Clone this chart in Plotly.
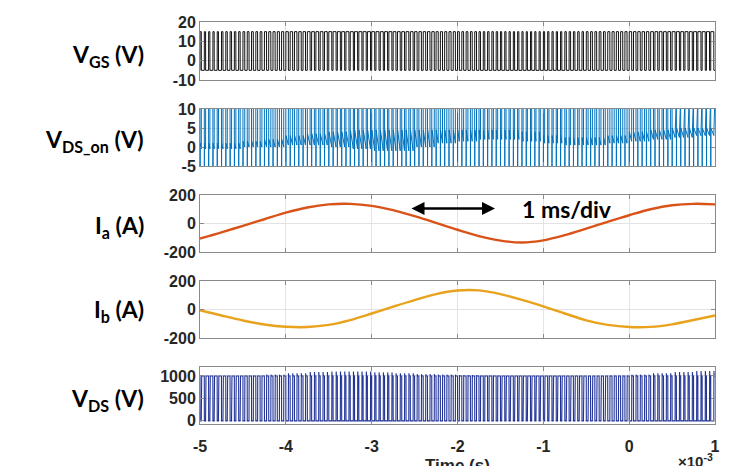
import plotly.graph_objects as go
from plotly.subplots import make_subplots

# ---------------- data ----------------
# sinusoidal phase currents, sampled every 0.25 ms (time in ms)
time_ms = [-5.0, -4.75, -4.5, -4.25, -4.0, -3.75, -3.5, -3.25, -3.0, -2.75, -2.5, -2.25,
           -2.0, -1.75, -1.5, -1.25, -1.0, -0.75, -0.5, -0.25, 0.0, 0.25, 0.5, 0.75, 1.0]
ia_A = [-106, -62, -16, 30, 76, 112, 134, 138, 124, 94, 52, 5,
        -44, -88, -120, -133, -118, -82, -36, 12, 58, 100, 128, 138, 134]
ib_A = [-5, -42, -77, -105, -121, -123, -108, -74, -28, 20, 66, 108,
        133, 134, 108, 68, 22, -28, -76, -108, -123, -122, -104, -74, -42]

# switching waveforms: 20 kHz, parameters per 0.25 ms block (5 periods per block)
switch_period_ms = 0.05
block_start_ms = [-5.0, -4.75, -4.5, -4.25, -4.0, -3.75, -3.5, -3.25, -3.0, -2.75, -2.5, -2.25,
                  -2.0, -1.75, -1.5, -1.25, -1.0, -0.75, -0.5, -0.25, 0.0, 0.25, 0.5, 0.75]
duty_high = [0.30, 0.35, 0.42, 0.50, 0.58, 0.65, 0.70, 0.72, 0.70, 0.65, 0.58, 0.50,
             0.42, 0.35, 0.30, 0.28, 0.30, 0.35, 0.42, 0.50, 0.58, 0.65, 0.70, 0.72]
vgs_high_V = 15
vgs_low_V = -5
vdson_start_V = [1.0, 1.0, 1.5, 2.0, 3.0, 3.5, 4.0, 4.5, 4.5, 4.5, 4.5, 4.5,
                 4.5, 4.5, 4.5, 4.0, 3.0, 2.5, 2.5, 3.0, 4.0, 4.5, 5.0, 5.0]
vdson_end_V = [-0.5, -0.5, 0.0, 0.0, 0.5, 0.5, 0.0, -0.5, -1.0, -1.0, 0.0, 1.0,
               1.5, 2.0, 2.0, 1.5, 1.0, 0.5, 0.5, 1.0, 1.5, 2.0, 2.5, 3.0]
vds_plateau_V = 1000
vds_peak_V = [1000, 1000, 1010, 1030, 1060, 1090, 1100, 1100, 1080, 1060, 1040, 1030,
              1020, 1010, 1000, 1000, 1000, 1000, 1000, 1010, 1030, 1060, 1090, 1110]

periods_per_block = 5

# tick labels (plain hyphen minus as in the reference)
x_tickvals = [-5, -4, -3, -2, -1, 0, 1]
x_ticktext = ["-5", "-4", "-3", "-2", "-1", "0", "1"]
y_tickvals = [[-10, 0, 10, 20], [-5, 0, 5, 10], [-200, 0, 200], [-200, 0, 200], [0, 500, 1000]]
y_ticktext = [["-10", "0", "10", "20"], ["-5", "0", "5", "10"], ["-200", "0", "200"],
              ["-200", "0", "200"], ["0", "500", "1000"]]
y_ranges = [[-10, 20], [-5, 10], [-200, 200], [-200, 200], [-70, 1200]]

# ---------------- build step waveforms from the block parameters ----------------
vgs_t, vgs_v = [], []
vdson_t, vdson_v = [], []
vds_t, vds_v = [], []
edge = 0.0008
for b, t0 in enumerate(block_start_ms):
    for k in range(periods_per_block):
        ts = t0 + k * switch_period_ms
        ton = duty_high[b] * switch_period_ms
        te = ts + switch_period_ms
        vgs_t += [ts, ts + edge, ts + ton, ts + ton + edge, te]
        vgs_v += [vgs_low_V, vgs_high_V, vgs_high_V, vgs_low_V, vgs_low_V]
        vdson_t += [ts, ts + edge, ts + 3 * edge, ts + ton, ts + ton + edge, te]
        vdson_v += [14, -8, vdson_start_V[b], vdson_end_V[b], 14, 14]
        vds_t += [ts, ts + edge, ts + ton, ts + ton + 2 * edge, ts + ton + 6 * edge, te]
        vds_v += [vds_plateau_V, 0, 0, vds_peak_V[b], vds_plateau_V, vds_plateau_V]

# ---------------- figure ----------------
fig = make_subplots(rows=5, cols=1, shared_xaxes=True)

fig.add_trace(go.Scatter(x=vgs_t, y=vgs_v, mode="lines",
                         line=dict(color="#111111", width=1.0)), row=1, col=1)
fig.add_trace(go.Scatter(x=vdson_t, y=vdson_v, mode="lines",
                         line=dict(color="#0072BD", width=1.0)), row=2, col=1)
fig.add_trace(go.Scatter(x=time_ms, y=ia_A, mode="lines", line_shape="spline",
                         line=dict(color="#D95319", width=2.4)), row=3, col=1)
fig.add_trace(go.Scatter(x=time_ms, y=ib_A, mode="lines", line_shape="spline",
                         line=dict(color="#E8A21C", width=2.4)), row=4, col=1)
fig.add_trace(go.Scatter(x=vds_t, y=vds_v, mode="lines",
                         line=dict(color="#233498", width=1.1)), row=5, col=1)

H = 466
top_px, bot_px = 22, 424
plot_h = bot_px - top_px


def dom(y_top, y_bot):
    return [(bot_px - y_bot) / plot_h, (bot_px - y_top) / plot_h]


panel_px = [(22, 80), (109, 166), (195, 252), (281, 338), (367, 424)]

axis_col = "#8A8A8A"
grid_col = "#E3E3E3"
tick_font = dict(family="Liberation Sans, Arial, sans-serif", size=16, color="#262626", weight="bold")

for i in range(5):
    sfx = "" if i == 0 else str(i + 1)
    fig.layout["yaxis" + sfx].update(
        domain=dom(*panel_px[i]), range=y_ranges[i], tickvals=y_tickvals[i],
        ticktext=y_ticktext[i],
        ticks="inside", ticklen=4, tickcolor=axis_col, showline=True, linecolor=axis_col,
        linewidth=1, mirror="ticks", showgrid=True, gridcolor=grid_col, zeroline=False,
        tickfont=tick_font, fixedrange=True)
    fig.layout["xaxis" + sfx].update(
        range=[-5, 1], tickvals=x_tickvals, ticktext=x_ticktext, ticks="inside", ticklen=4,
        tickcolor=axis_col, showline=True, linecolor=axis_col, linewidth=1, mirror="ticks",
        showgrid=True, gridcolor=grid_col, zeroline=False, showticklabels=(i == 4),
        tickfont=tick_font)

fig.layout.xaxis5.update(ticklabelstandoff=8)

label_font = dict(family="Lato, 'Open Sans', sans-serif", size=23, color="black", weight="bold")
labels = ["V<sub>GS</sub> (V)", "V<sub>DS_on</sub> (V)", "I<sub>a</sub> (A)", "I<sub>b</sub> (A)",
          "V<sub>DS</sub> (V)"]
label_y_px = [56, 140, 227, 310, 399]
for txt, ypx in zip(labels, label_y_px):
    fig.add_annotation(text=txt, xref="paper", yref="paper", x=(146 - 200) / 515,
                       y=(bot_px - ypx) / plot_h, xanchor="right", yanchor="middle",
                       showarrow=False, font=label_font)

# 1 ms/div marker
fig.add_annotation(x=-1.563, y=105, ax=-2.553, ay=105, xref="x3", yref="y3",
                   axref="x3", ayref="y3", text="", showarrow=True, arrowhead=2,
                   startarrowhead=2, arrowside="end+start", arrowwidth=2.6, arrowsize=1,
                   startarrowsize=1, arrowcolor="black", standoff=0, startstandoff=0)
fig.add_annotation(x=-0.72, y=101, xref="x3", yref="y3", text="1 ms/div", showarrow=False,
                   xanchor="center", yanchor="middle", font=label_font)

# axis title and exponent (partly cut by the lower edge, as in the reference)
fig.add_annotation(text="Time (s)", xref="paper", yref="paper", x=0.5,
                   y=(bot_px - 454) / plot_h, xanchor="center", yanchor="top", showarrow=False,
                   font=dict(family="Liberation Sans, Arial, sans-serif", size=17,
                             color="#262626", weight="bold"))
fig.add_annotation(text="×10<sup>-3</sup>", xref="paper", yref="paper", x=1.0,
                   y=(bot_px - 449) / plot_h, xanchor="right", yanchor="top", showarrow=False,
                   font=dict(family="Liberation Sans, Arial, sans-serif", size=15,
                             color="#262626", weight="bold"))

fig.update_layout(width=753, height=H, margin=dict(l=200, r=38, t=top_px, b=H - bot_px),
                  plot_bgcolor="white", paper_bgcolor="white", showlegend=False)

fig.write_html("out.html")
